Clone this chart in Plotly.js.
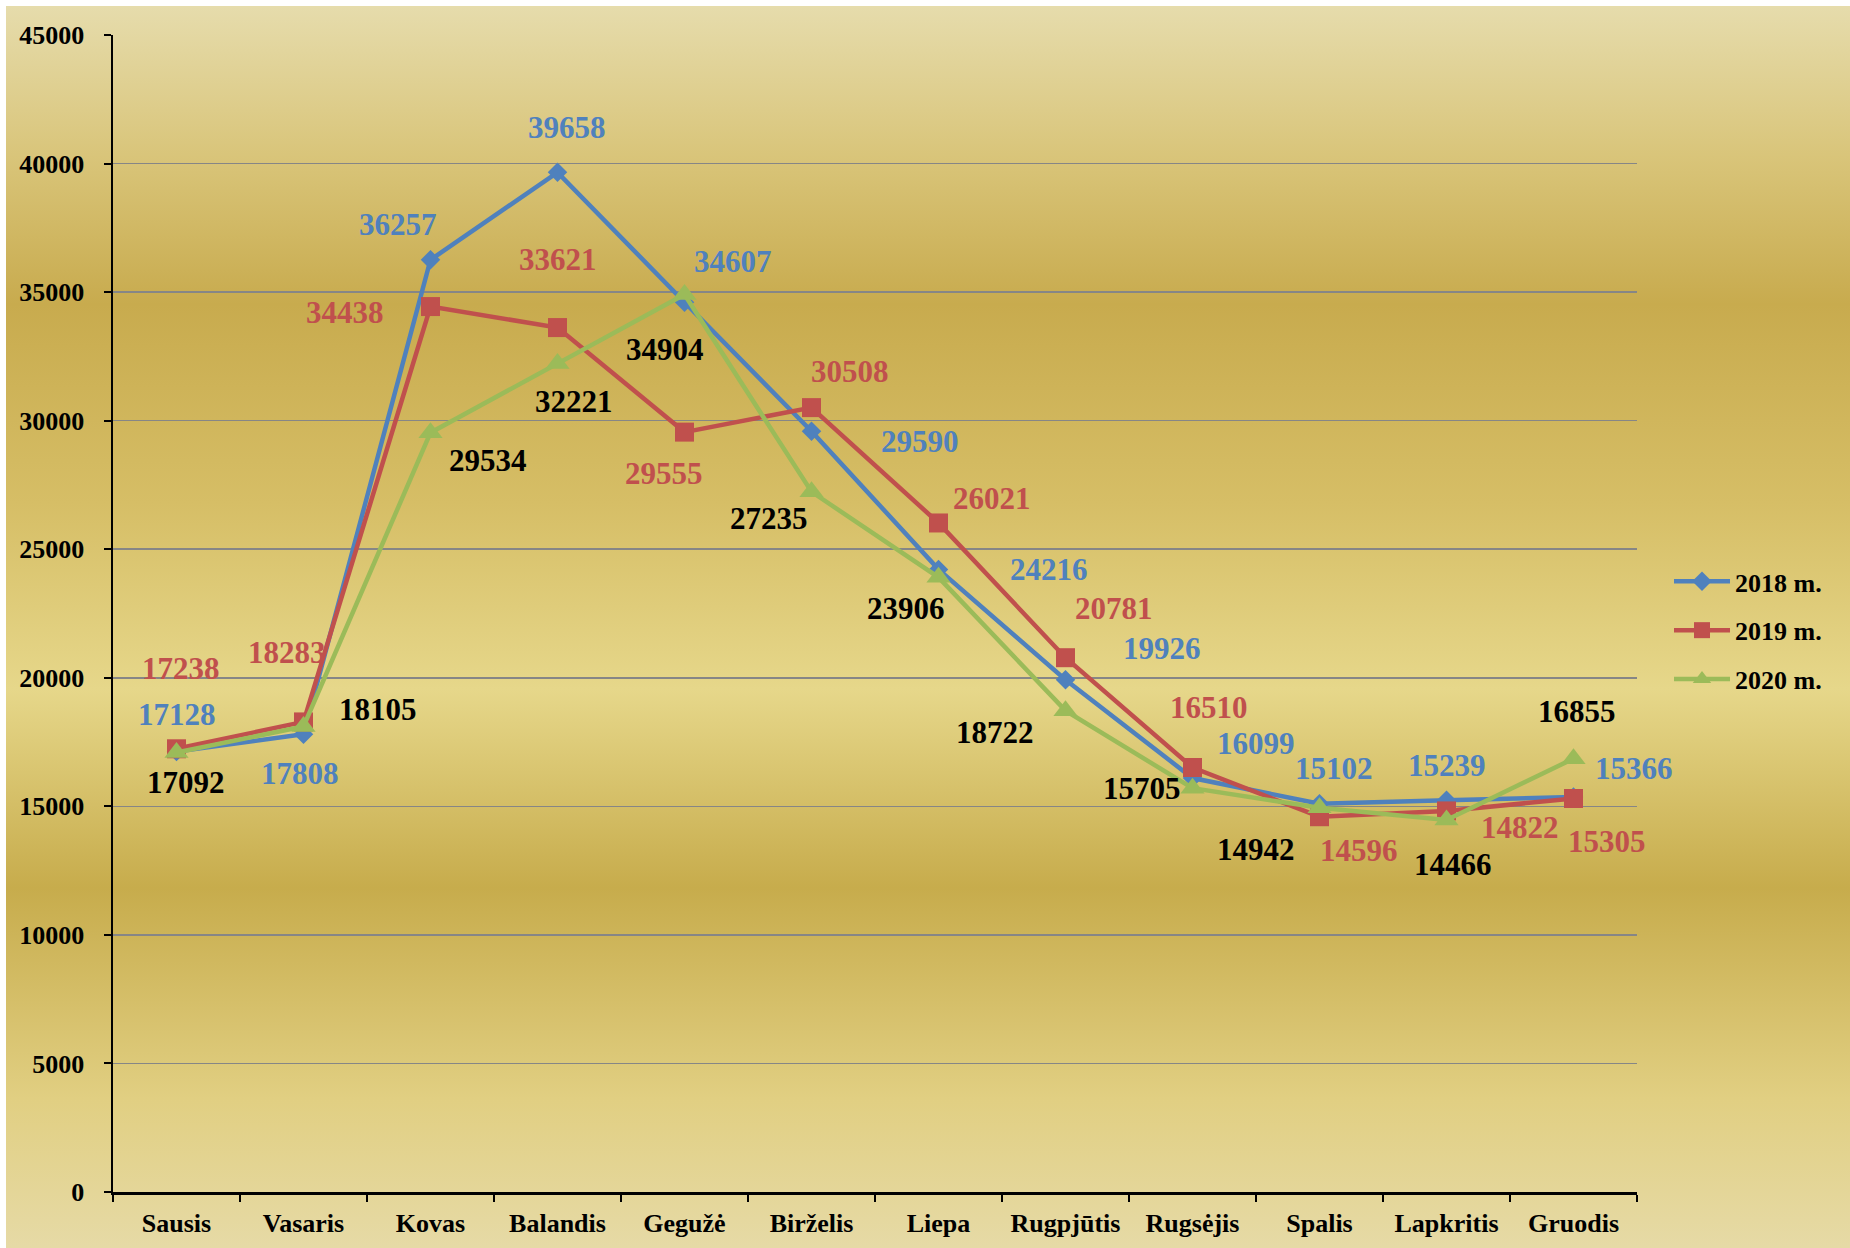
<!DOCTYPE html>
<html>
<head>
<meta charset="utf-8">
<script src="https://cdn.plot.ly/plotly-3.0.1.min.js"></script>
<style>
  html, body { margin: 0; padding: 0; background: #ffffff; }
  #bg { position: absolute; left: 6px; top: 6px; width: 1844px; height: 1242px;
        background: linear-gradient(to bottom, #E6DCAC 0%, #D9C57A 12%, #C8AB4E 24%, #D6BE66 40%, #E6D78A 55%, #C7AC4C 71%, #E1CF82 88%, #E6DAA6 100%); }
  #chart { position: absolute; left: 0; top: 0; width: 1850px; height: 1248px; }
</style>
</head>
<body>
<div id="bg"></div>
<div id="chart"></div>
<script>
// ---- data ----
const months = ["Sausis", "Vasaris", "Kovas", "Balandis", "Gegužė", "Birželis", "Liepa", "Rugpjūtis", "Rugsėjis", "Spalis", "Lapkritis", "Gruodis"];
const seriesNames = ["2018 m.", "2019 m.", "2020 m."];
const values2018 = [17128, 17808, 36257, 39658, 34607, 29590, 24216, 19926, 16099, 15102, 15239, 15366];
const values2019 = [17238, 18283, 34438, 33621, 29555, 30508, 26021, 20781, 16510, 14596, 14822, 15305];
const values2020 = [17092, 18105, 29534, 32221, 34904, 27235, 23906, 18722, 15705, 14942, 14466, 16855];
const yTicks = [0, 5000, 10000, 15000, 20000, 25000, 30000, 35000, 40000, 45000];

// ---- label placement (pixel offsets from each point: dx right, dy down) ----
const labelDx2018 = [0, -4, -33, 9, 48, 108, 110, 96, 63, 14, 0, 60];
const labelDy2018 = [-37, 39, -35, -45, -41, 10, 0, -31, -35, -35, -35, -28];
const labelDx2019 = [4, -17, -86, 0, -21, 38, 53, 48, 16, 39, 73, 33];
const labelDy2019 = [-80, -69, 6, -68, 41, -36, -24, -49, -60, 34, 17, 43];
const labelDx2020 = [9, 74, 57, 16, -20, -43, -33, -71, -51, -64, 6, 3];
const labelDy2020 = [30, -17, 28, 38, 55, 27, 31, 22, 0, 42, 44, -47];

const colors = ["#4F81BD", "#C0504D", "#9BBB59"];
const labelColors = ["#4F81BD", "#C0504D", "#000000"];
const symbols = ["diamond", "square", "triangle-up"];
const markerSizes = [15, 19, 21];
const fontFamily = "'Liberation Serif', 'Times New Roman', serif";

const allValues = [values2018, values2019, values2020];
const allDx = [labelDx2018, labelDx2019, labelDx2020];
const allDy = [labelDy2018, labelDy2019, labelDy2020];

const traces = allValues.map((vals, s) => ({
  type: "scatter",
  mode: "lines+markers",
  name: seriesNames[s],
  legendgroup: "g" + s,
  x: months,
  y: vals,
  line: { color: colors[s], width: 4.5 },
  marker: { color: colors[s], symbol: symbols[s], size: markerSizes[s] },
  hoverinfo: "x+y"
}));

const annotations = [];
allValues.forEach((vals, s) => {
  vals.forEach((v, i) => {
    annotations.push({
      x: months[i], y: v, xref: "x", yref: "y",
      text: String(v), showarrow: false,
      xanchor: "center", yanchor: "middle",
      xshift: allDx[s][i], yshift: -allDy[s][i],
      font: { family: fontFamily, size: 31, color: labelColors[s], weight: "bold" }
    });
  });
});

const layout = {
  width: 1850, height: 1248,
  margin: { l: 113, r: 213, t: 35, b: 56 },
  paper_bgcolor: "rgba(0,0,0,0)",
  plot_bgcolor: "rgba(0,0,0,0)",
  font: { family: fontFamily, color: "#000000" },
  showlegend: true,
  legend: {
    x: 1.021, y: 0.548, xanchor: "left", yanchor: "top",
    traceorder: "grouped", tracegroupgap: 12,
    font: { family: fontFamily, size: 26, color: "#000000", weight: "bold" },
    bgcolor: "rgba(0,0,0,0)", itemwidth: 56
  },
  xaxis: {
    type: "category", range: [-0.5, 11.5],
    showline: true, linecolor: "#000000", linewidth: 2.5,
    ticks: "outside", tickson: "boundaries", ticklen: 7, tickwidth: 2, tickcolor: "#000000",
    showgrid: false, zeroline: false,
    ticklabelstandoff: 6,
    tickfont: { family: fontFamily, size: 26, color: "#000000", weight: "bold" }
  },
  yaxis: {
    range: [0, 45000], tickvals: yTicks, ticktext: yTicks.map(String),
    showline: true, linecolor: "#000000", linewidth: 2.5,
    ticks: "outside", ticklen: 7, tickwidth: 2, tickcolor: "#000000",
    showgrid: true, gridcolor: "#868686", gridwidth: 1.5,
    zeroline: false,
    ticklabelstandoff: 14,
    tickfont: { family: fontFamily, size: 26, color: "#000000", weight: "bold" }
  },
  annotations: annotations
};

Plotly.newPlot("chart", traces, layout, { staticPlot: true });
</script>
</body>
</html>
